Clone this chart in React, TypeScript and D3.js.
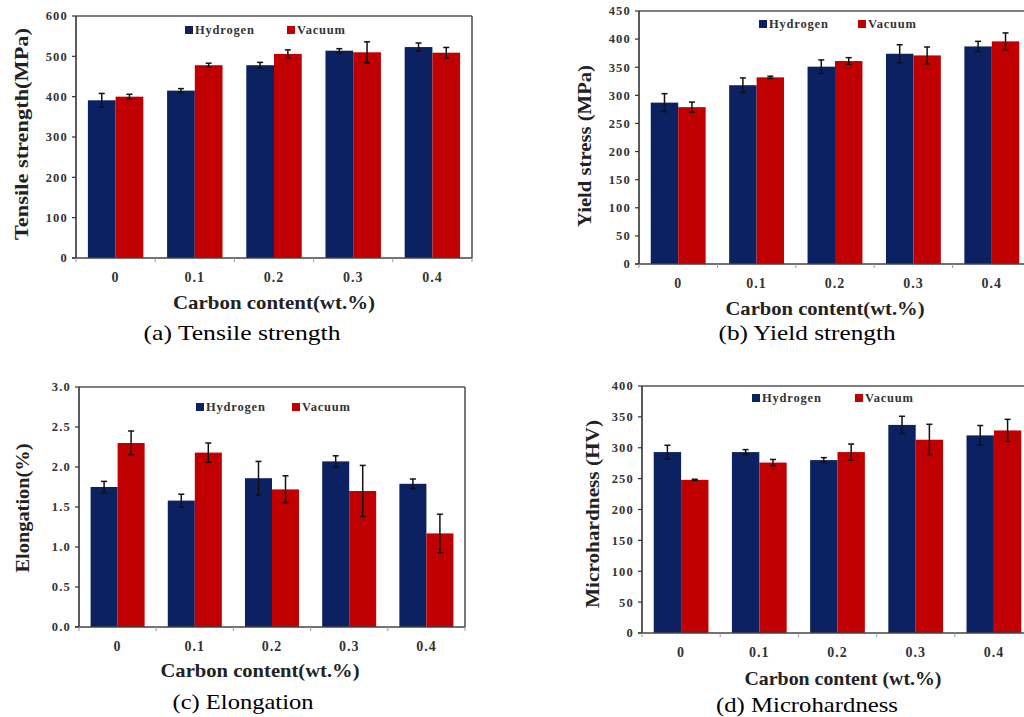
import React from "react";
import * as d3 from "d3";

const categories = ["0", "0.1", "0.2", "0.3", "0.4"];
const seriesNames = ["Hydrogen", "Vacuum"];

const tensileH = [391, 415, 478, 514, 523];
const tensileHErr = [17, 5, 7, 5, 10];
const tensileV = [400, 478, 506, 510, 509];
const tensileVErr = [6, 5, 10, 26, 13];

const yieldH = [287, 318, 351, 374, 387];
const yieldHErr = [16, 13, 12, 16, 9];
const yieldV = [279, 332, 361, 371, 396];
const yieldVErr = [9, 2, 6, 15, 15];

const elongH = [1.75, 1.58, 1.86, 2.07, 1.79];
const elongHErr = [0.07, 0.08, 0.21, 0.07, 0.06];
const elongV = [2.3, 2.18, 1.72, 1.7, 1.17];
const elongVErr = [0.15, 0.12, 0.17, 0.32, 0.24];

const hardH = [293, 293, 280, 337, 320];
const hardHErr = [11, 4, 4, 14, 16];
const hardV = [248, 276, 293, 313, 328];
const hardVErr = [1, 5, 13, 25, 18];

const COLORS = ["#0b2161", "#c00000"];
const SERIF = "Liberation Serif";

type PanelProps = {
  left: number;
  right: number;
  top: number;
  bottom: number;
  max: number;
  step: number;
  fmt: (v: number) => string;
  h: number[];
  hErr: number[];
  v: number[];
  vErr: number[];
  yLabel: string;
  yLabelPos: [number, number, number];
  xLabel: string;
  xLabelPos: [number, number, number];
  caption: string;
  captionPos: [number, number, number];
  legend: [number, number, number];
};

function Panel(p: PanelProps) {
  const x = d3
    .scaleBand<string>()
    .domain(categories)
    .range([p.left, p.right])
    .paddingInner(0.3)
    .paddingOuter(0.15);
  const xs = d3
    .scaleBand<string>()
    .domain(seriesNames)
    .range([0, x.bandwidth()]);
  const y = d3.scaleLinear().domain([0, p.max]).range([p.bottom, p.top]);
  const ticks = d3.range(0, p.max + p.step / 2, p.step);
  const step = x.step();
  const vals = [p.h, p.v];
  const errs = [p.hErr, p.vErr];

  return (
    <g>
      {/* frame */}
      <line x1={p.left} x2={p.right} y1={p.top} y2={p.top} stroke="#555" strokeWidth={1.6} />
      <line x1={p.right} x2={p.right} y1={p.top} y2={p.bottom} stroke="#555" strokeWidth={1.6} />

      {seriesNames.map((s, si) =>
        categories.map((c, ci) => (
          <rect
            key={s + c}
            x={(x(c) ?? 0) + (xs(s) ?? 0)}
            y={y(vals[si][ci])}
            width={xs.bandwidth()}
            height={p.bottom - y(vals[si][ci])}
            fill={COLORS[si]}
          />
        ))
      )}

      {seriesNames.map((s, si) =>
        categories.map((c, ci) => {
          const cx = (x(c) ?? 0) + (xs(s) ?? 0) + xs.bandwidth() / 2;
          const y1 = y(vals[si][ci] + errs[si][ci]);
          const y2 = y(vals[si][ci] - errs[si][ci]);
          return (
            <g key={"e" + s + c} stroke="#111" strokeWidth={1.5}>
              <line x1={cx} x2={cx} y1={y1} y2={y2} />
              <line x1={cx - 3} x2={cx + 3} y1={y1} y2={y1} />
              <line x1={cx - 3} x2={cx + 3} y1={y2} y2={y2} />
            </g>
          );
        })
      )}

      {/* y axis */}
      <line x1={p.left} x2={p.left} y1={p.top} y2={p.bottom} stroke="#333" strokeWidth={1.6} />
      {ticks.map((t) => (
        <g key={"yt" + t}>
          <line x1={p.left - 4} x2={p.left} y1={y(t)} y2={y(t)} stroke="#333" strokeWidth={1.2} />
          <text
            x={p.left - 8}
            y={y(t)}
            dy="0.35em"
            textAnchor="end"
            fontFamily={SERIF}
            fontWeight="bold"
            fontSize={12.5}
            letterSpacing={1.2}
            fill="#333"
          >
            {p.fmt(t)}
          </text>
        </g>
      ))}

      {/* x axis */}
      <line x1={p.left - 4} x2={p.right} y1={p.bottom} y2={p.bottom} stroke="#444" strokeWidth={1.6} />
      {d3.range(categories.length + 1).map((i) => (
        <line
          key={"xt" + i}
          x1={p.left + i * step}
          x2={p.left + i * step}
          y1={p.bottom}
          y2={p.bottom + 4}
          stroke="#999"
          strokeWidth={1}
        />
      ))}
      {categories.map((c) => (
        <text
          key={"xl" + c}
          x={(x(c) ?? 0) + x.bandwidth() / 2}
          y={p.bottom + 24}
          textAnchor="middle"
          fontFamily={SERIF}
          fontWeight="bold"
          fontSize={14}
          letterSpacing={1}
          fill="#333"
        >
          {c}
        </text>
      ))}

      {/* legend */}
      {seriesNames.map((s, si) => (
        <g key={"lg" + s}>
          <rect x={p.legend[si]} y={p.legend[2] - 4} width={8} height={8} fill={COLORS[si]} />
          <text
            x={p.legend[si] + 10}
            y={p.legend[2]}
            dy="0.35em"
            fontFamily={SERIF}
            fontWeight="bold"
            fontSize={12.5}
            letterSpacing={0.8}
            fill="#333"
          >
            {s}
          </text>
        </g>
      ))}

      <text
        transform={`translate(${p.yLabelPos[0]},${p.yLabelPos[1]}) rotate(-90)`}
        dy="0.35em"
        textAnchor="middle"
        fontFamily={SERIF}
        fontWeight="bold"
        fontSize={18}
        textLength={p.yLabelPos[2]}
        lengthAdjust="spacingAndGlyphs"
        fill="#222"
      >
        {p.yLabel}
      </text>
      <text
        x={p.xLabelPos[0]}
        y={p.xLabelPos[1]}
        dy="0.35em"
        textAnchor="middle"
        fontFamily={SERIF}
        fontWeight="bold"
        fontSize={19}
        textLength={p.xLabelPos[2]}
        lengthAdjust="spacingAndGlyphs"
        fill="#222"
      >
        {p.xLabel}
      </text>
      <text
        x={p.captionPos[0]}
        y={p.captionPos[1]}
        dy="0.35em"
        textAnchor="middle"
        fontFamily={SERIF}
        fontSize={21}
        textLength={p.captionPos[2]}
        lengthAdjust="spacingAndGlyphs"
        fill="#000"
      >
        {p.caption}
      </text>
    </g>
  );
}

const f0 = d3.format("d");
const f1 = d3.format(".1f");

export default function App() {
  return (
    <div style={{ position: "fixed", left: 0, top: 0, background: "#fff" }}>
      <svg width={1024} height={717} style={{ display: "block" }}>
        <rect width={1024} height={717} fill="#fff" />
        <Panel
          left={76} right={472} top={16} bottom={258} max={600} step={100} fmt={f0}
          h={tensileH} hErr={tensileHErr} v={tensileV} vErr={tensileVErr}
          yLabel="Tensile strength(MPa)" yLabelPos={[22, 134, 212]}
          xLabel="Carbon content(wt.%)" xLabelPos={[274, 302, 202]}
          caption="(a) Tensile strength" captionPos={[242, 333, 197]}
          legend={[185, 287, 30]}
        />
        <Panel
          left={639} right={1031} top={11} bottom={264} max={450} step={50} fmt={f0}
          h={yieldH} hErr={yieldHErr} v={yieldV} vErr={yieldVErr}
          yLabel="Yield stress (MPa)" yLabelPos={[585, 146, 162]}
          xLabel="Carbon content(wt.%)" xLabelPos={[825, 308, 199]}
          caption="(b) Yield strength" captionPos={[807, 333, 177]}
          legend={[759, 858, 24]}
        />
        <Panel
          left={79} right={465} top={387} bottom={627} max={3} step={0.5} fmt={f1}
          h={elongH} hErr={elongHErr} v={elongV} vErr={elongVErr}
          yLabel="Elongation(%)" yLabelPos={[23, 508, 129]}
          xLabel="Carbon content(wt.%)" xLabelPos={[260, 670, 199]}
          caption="(c) Elongation" captionPos={[243, 702, 141]}
          legend={[196, 292, 407]}
        />
        <Panel
          left={642} right={1033} top={386} bottom={633} max={400} step={50} fmt={f0}
          h={hardH} hErr={hardHErr} v={hardV} vErr={hardVErr}
          yLabel="Microhardness  (HV)" yLabelPos={[593, 514, 188]}
          xLabel="Carbon content (wt.%)" xLabelPos={[843, 678, 197]}
          caption="(d) Microhardness" captionPos={[807, 705, 182]}
          legend={[752, 855, 398]}
        />
      </svg>
    </div>
  );
}
